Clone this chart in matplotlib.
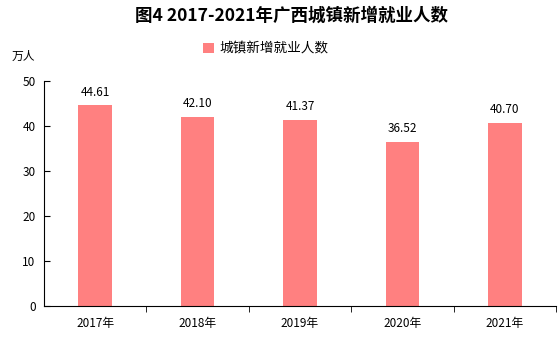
import matplotlib.pyplot as plt
import numpy as np

plt.rcParams['font.family'] = ['Noto Sans CJK SC', 'DejaVu Sans']

years = ['2017年', '2018年', '2019年', '2020年', '2021年']
jobs = [44.61, 42.10, 41.37, 36.52, 40.70]

fig = plt.figure(figsize=(5.59, 3.40), dpi=100)
ax = fig.add_axes([44 / 559, 1 - 306 / 340, 512 / 559, 225 / 340])

x = np.arange(len(years))
bars = ax.bar(x, jobs, width=0.33, color='#FF8080', label='城镇新增就业人数')
for xi, v in zip(x, jobs):
    ax.text(xi, v + 1.5, f'{v:.2f}', ha='center', va='bottom', fontsize=8.5)

ax.set_xlim(-0.5, len(years) - 0.5)
ax.set_ylim(0, 50)
ax.set_yticks(range(0, 51, 10))
ax.set_xticks(x)
ax.set_xticklabels(years, fontsize=8.5)
ax.set_xticks(np.arange(0.5, len(years), 1), minor=True)
ax.tick_params(axis='x', which='major', length=0, pad=8)
ax.tick_params(axis='x', which='minor', length=4, direction='out')
ax.tick_params(axis='y', direction='in', length=4, labelsize=8.5, pad=6)
for s in ['top', 'right']:
    ax.spines[s].set_visible(False)

fig.text(0.522, 0.955, '图4 2017-2021年广西城镇新增就业人数', ha='center', va='center',
         fontsize=12.6, fontweight='bold')
fig.text(0.02, 0.835, '万人', fontsize=8.5, va='center')
fig.legend(loc='center', bbox_to_anchor=(0.475, 0.857), frameon=False, fontsize=9.8,
           handlelength=0.8, handleheight=0.8, handletextpad=0.4)

fig.savefig('out.png', dpi=100)
